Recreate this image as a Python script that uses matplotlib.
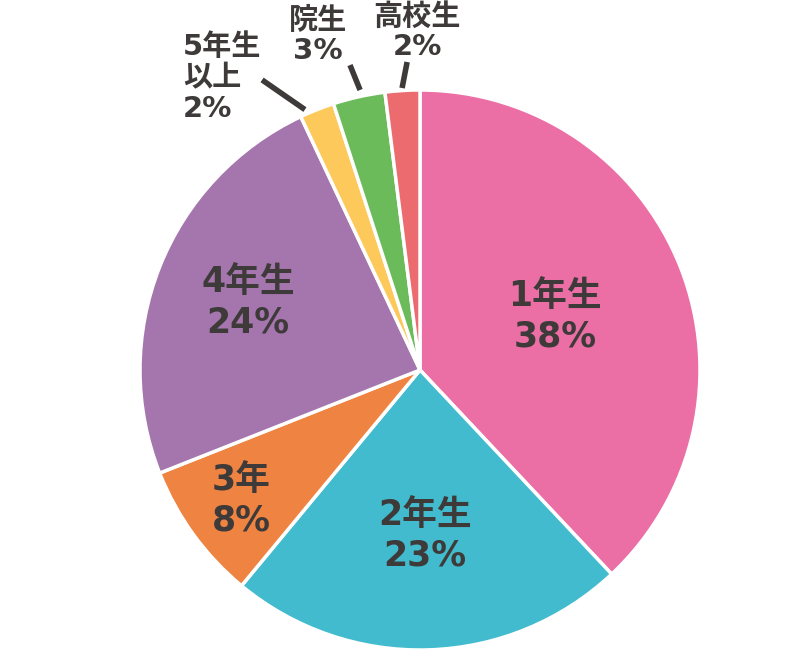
import matplotlib
matplotlib.use('Agg')
import matplotlib.pyplot as plt
import numpy as np

# DejaVu for digits (wide, Verdana-like), Noto CJK for kanji
plt.rcParams['font.family'] = ['DejaVu Sans', 'Noto Sans CJK JP']

labels = ['1年生', '2年生', '3年', '4年生', '5年生\n以上', '院生', '高校生']
shares = [38, 23, 8, 24, 2, 3, 2]
colors = ['#EB6EA5', '#41BBCD', '#EF8442', '#A576AE', '#FDC95B', '#6CBB5A', '#EB6B6F']
# inside label radius (fraction of pie radius)
label_r = [0.52, 0.59, 0.79, 0.66, None, None, None]
# outside labels: text position, text alignment, leader line (inner, outer)
out_text = {4: (-0.846, 1.043, 'left'), 5: (-0.364, 1.193, 'center'), 6: (-0.01, 1.207, 'center')}
out_line = {4: ((-0.411, 0.93), (-0.564, 1.036)),
            5: ((-0.214, 1.0), (-0.25, 1.089)),
            6: ((-0.064, 1.007), (-0.046, 1.1))}

txt_color = '#3E3A39'

fig = plt.figure(figsize=(8, 6.6), dpi=100)
ax = fig.add_axes([0.175, 0.01515, 0.7, 0.8485])

wedges, _ = ax.pie(shares, colors=colors, startangle=90, counterclock=False,
                   radius=1.0, wedgeprops=dict(edgecolor='white', linewidth=2.5))

total = float(sum(shares))
cum = 0.0
for i, (lab, v) in enumerate(zip(labels, shares)):
    mid = 90 - (cum + v / 2) / total * 360
    cum += v
    a = np.deg2rad(mid)
    text = f'{lab}\n{v}%'
    if label_r[i] is not None:
        ax.text(label_r[i] * np.cos(a), label_r[i] * np.sin(a), text,
                ha='center', va='center', fontsize=25, fontweight='bold',
                color=txt_color, linespacing=1.25)
    else:
        (x0, y0), (x1, y1) = out_line[i]
        ax.plot([x0, x1], [y0, y1], color=txt_color, lw=4,
                solid_capstyle='butt', clip_on=False)
        tx, ty, ha = out_text[i]
        ax.text(tx, ty, text, ha=ha, va='center', fontsize=21,
                fontweight='bold', color=txt_color, linespacing=1.12)

ax.set_xlim(-1, 1)
ax.set_ylim(-1, 1)
ax.set_aspect('equal')
ax.axis('off')

fig.savefig('out.png', dpi=100)
